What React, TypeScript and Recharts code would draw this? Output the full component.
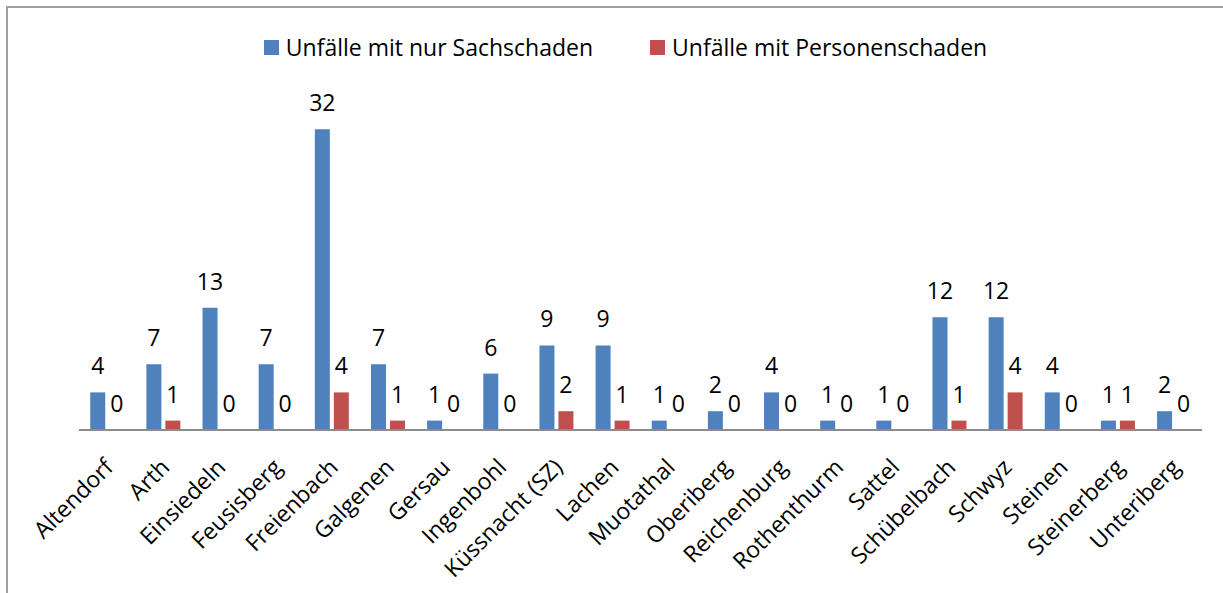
import { BarChart, Bar, XAxis, YAxis, Legend, LabelList } from 'recharts';

const GEMEINDEN = [
  'Altendorf', 'Arth', 'Einsiedeln', 'Feusisberg', 'Freienbach', 'Galgenen',
  'Gersau', 'Ingenbohl', 'Küssnacht (SZ)', 'Lachen', 'Muotathal', 'Oberiberg',
  'Reichenburg', 'Rothenthurm', 'Sattel', 'Schübelbach', 'Schwyz', 'Steinen',
  'Steinerberg', 'Unteriberg',
];

const SACHSCHADEN = [4, 7, 13, 7, 32, 7, 1, 6, 9, 9, 1, 2, 4, 1, 1, 12, 12, 4, 1, 2];
const PERSONENSCHADEN = [0, 1, 0, 0, 4, 1, 0, 0, 2, 1, 0, 0, 0, 0, 0, 1, 4, 0, 1, 0];

const SERIES_ORDER = ['Unfälle mit nur Sachschaden', 'Unfälle mit Personenschaden'];

const FONT = '"Open Sans", sans-serif';
const FS = 23;
const BLUE = '#4F81BD';
const RED = '#C0504D';

const data = GEMEINDEN.map((name, i) => ({
  name,
  sach: SACHSCHADEN[i],
  person: PERSONENSCHADEN[i],
}));

function RotatedTick({ x, y, payload }: any) {
  return (
    <g transform={`translate(${x + 2},${y + 33})`}>
      <text
        x={0}
        y={0}
        dy="0.35em"
        textAnchor="end"
        transform="rotate(-45)"
        fontFamily={FONT}
        fontSize={FS}
        fill="#000"
      >
        {payload.value}
      </text>
    </g>
  );
}

function LegendRow({ payload }: any) {
  const items = [...(payload ?? [])].sort(
    (a: any, b: any) => SERIES_ORDER.indexOf(a.value) - SERIES_ORDER.indexOf(b.value),
  );
  return (
    <div
      style={{
        display: 'flex',
        justifyContent: 'center',
        gap: 57,
        paddingLeft: 20,
        fontFamily: FONT,
        fontSize: FS,
        lineHeight: '30px',
        color: '#000',
      }}
    >
      {items.map((p: any) => (
        <div key={p.value} style={{ display: 'flex', alignItems: 'center' }}>
          <span
            style={{ width: 15, height: 15, background: p.color, marginRight: 7, display: 'inline-block' }}
          />
          <span>{p.value}</span>
        </div>
      ))}
    </div>
  );
}

export default function App() {
  return (
    <div
      style={{
        position: 'absolute',
        left: 6,
        top: 6,
        width: 1217,
        height: 587,
        borderTop: '2px solid #a0a0a0',
        borderLeft: '2px solid #a0a0a0',
        overflow: 'hidden',
        background: '#fff',
      }}
    >
      <BarChart
        width={1215}
        height={585}
        data={data}
        margin={{ top: 93, right: 21, left: 71, bottom: 23 }}
        barCategoryGap="20%"
        barGap={4}
      >
        <XAxis
          dataKey="name"
          interval={0}
          height={140}
          tickLine={false}
          tickSize={0}
          tickMargin={0}
          axisLine={{ stroke: '#8c8c8c', strokeWidth: 2 }}
          tick={<RotatedTick />}
        />
        <YAxis hide domain={[0, 35]} />
        <Legend
          layout="horizontal"
          verticalAlign="middle"
          align="center"
          wrapperStyle={{ top: 24, left: 0, width: 1215 }}
          content={<LegendRow />}
        />
        <Bar
          dataKey="sach"
          name="Unfälle mit nur Sachschaden"
          fill={BLUE}
          minPointSize={0.01}
          isAnimationActive={false}
        >
          <LabelList dataKey="sach" position="top" offset={18} fontFamily={FONT} fontSize={FS} fill="#000" />
        </Bar>
        <Bar
          dataKey="person"
          name="Unfälle mit Personenschaden"
          fill={RED}
          minPointSize={0.01}
          isAnimationActive={false}
        >
          <LabelList dataKey="person" position="top" offset={18} fontFamily={FONT} fontSize={FS} fill="#000" />
        </Bar>
      </BarChart>
    </div>
  );
}
